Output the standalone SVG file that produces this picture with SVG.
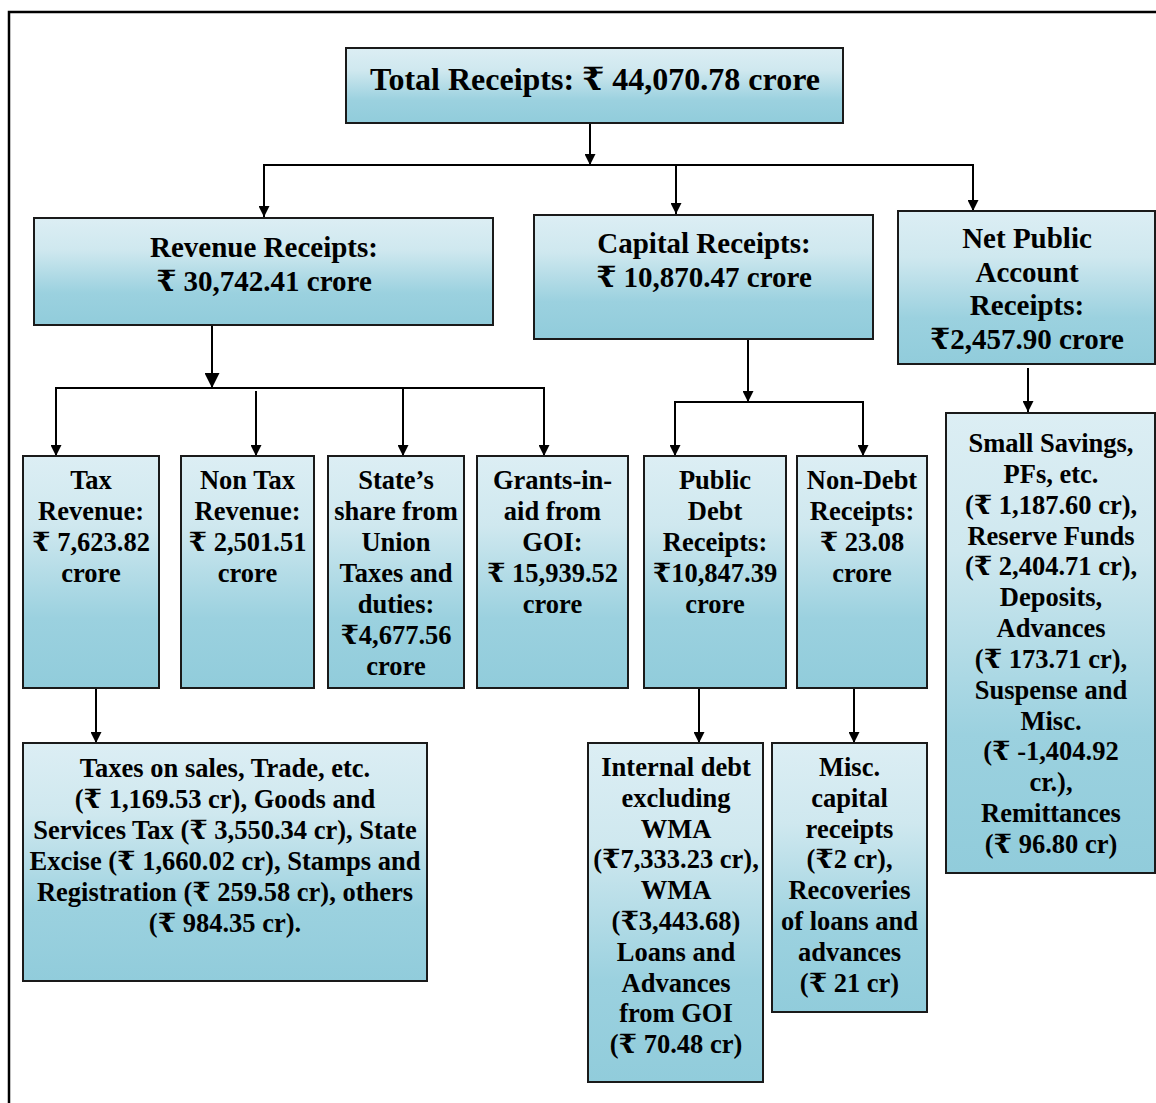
<svg xmlns="http://www.w3.org/2000/svg" width="1156" height="1103" viewBox="0 0 1156 1103">
<style>
.box{stroke:#1a1a1a;stroke-width:2;fill:url(#g)}
text{font-family:"Liberation Serif","Times New Roman","DejaVu Serif",serif;font-weight:bold;fill:#000;text-anchor:middle}
.t1{font-size:32px}
.t2{font-size:29px}
.t3{font-size:26.5px}
.c{stroke:#000;stroke-width:2;fill:none}
.a{marker-end:url(#arr)}
.ab{marker-end:url(#arrB)}
</style>
<defs>
<linearGradient id="g" x1="0" y1="0" x2="0" y2="1">
<stop offset="0" stop-color="#dceef4"/>
<stop offset="0.3" stop-color="#cfe8ef"/>
<stop offset="0.7" stop-color="#9bd1df"/>
<stop offset="1" stop-color="#91ccdb"/>
</linearGradient>
<marker id="arr" markerUnits="userSpaceOnUse" markerWidth="11" markerHeight="11" refX="11" refY="5.5" orient="auto" viewBox="0 0 11 11">
<path d="M0,0 L11,5.5 L0,11 z" fill="#000"/>
</marker>
<marker id="arrB" markerUnits="userSpaceOnUse" markerWidth="15" markerHeight="15" refX="15" refY="7.5" orient="auto" viewBox="0 0 15 15">
<path d="M0,0 L15,7.5 L0,15 z" fill="#000"/>
</marker>
</defs>
<rect width="1156" height="1103" fill="#fff"/>
<path d="M9,1103 V12 H1156" stroke="#000" stroke-width="2.5" fill="none"/>

<g id="connectors">
<line class="c a" x1="590" y1="123" x2="590" y2="165"/>
<line class="c" x1="263" y1="165" x2="974" y2="165"/>
<line class="c a" x1="264" y1="165" x2="264" y2="217"/>
<line class="c a" x1="676" y1="165" x2="676" y2="214"/>
<line class="c a" x1="973" y1="165" x2="973" y2="211"/>
<line class="c ab" x1="212" y1="325" x2="212" y2="388"/>
<line class="c" x1="55" y1="388" x2="545" y2="388"/>
<line class="c a" x1="56" y1="388" x2="56" y2="456"/>
<line class="c a" x1="256" y1="391" x2="256" y2="456"/>
<line class="c a" x1="403" y1="388" x2="403" y2="456"/>
<line class="c a" x1="544" y1="388" x2="544" y2="456"/>
<line class="c a" x1="748" y1="339" x2="748" y2="402"/>
<line class="c" x1="674" y1="402" x2="864" y2="402"/>
<line class="c a" x1="675" y1="402" x2="675" y2="456"/>
<line class="c a" x1="863" y1="402" x2="863" y2="456"/>
<line class="c a" x1="1028" y1="368" x2="1028" y2="412"/>
<line class="c a" x1="96" y1="688" x2="96" y2="743"/>
<line class="c a" x1="699" y1="688" x2="699" y2="743"/>
<line class="c a" x1="854" y1="688" x2="854" y2="743"/>
</g>

<g id="total">
<rect class="box" x="346" y="48" width="497" height="75"/>
<text class="t1" x="595" y="90">Total Receipts: ₹ 44,070.78 crore</text>
</g>

<g id="revenue">
<rect class="box" x="34" y="218" width="459" height="107"/>
<text class="t2" x="264" y="257">Revenue Receipts:</text>
<text class="t2" x="264" y="291">₹ 30,742.41 crore</text>
</g>

<g id="capital">
<rect class="box" x="534" y="215" width="339" height="124"/>
<text class="t2" x="704" y="253">Capital Receipts:</text>
<text class="t2" x="704" y="287">₹ 10,870.47 crore</text>
</g>

<g id="netpublic">
<rect class="box" x="898" y="211" width="257" height="153"/>
<text class="t2" x="1027" y="248">Net Public</text>
<text class="t2" x="1027" y="282">Account</text>
<text class="t2" x="1027" y="315">Receipts:</text>
<text class="t2" x="1027" y="349">₹2,457.90 crore</text>
</g>

<g id="taxrevenue">
<rect class="box" x="23" y="456" width="136" height="232"/>
<text class="t3" x="91" y="489">Tax</text>
<text class="t3" x="91" y="520">Revenue:</text>
<text class="t3" x="91" y="551">₹ 7,623.82</text>
<text class="t3" x="91" y="582">crore</text>
</g>

<g id="nontax">
<rect class="box" x="181" y="456" width="133" height="232"/>
<text class="t3" x="247.5" y="489">Non Tax</text>
<text class="t3" x="247.5" y="520">Revenue:</text>
<text class="t3" x="247.5" y="551">₹ 2,501.51</text>
<text class="t3" x="247.5" y="582">crore</text>
</g>

<g id="stateshare">
<rect class="box" x="328" y="456" width="136" height="232"/>
<text class="t3" x="396" y="489">State’s</text>
<text class="t3" x="396" y="520">share from</text>
<text class="t3" x="396" y="551">Union</text>
<text class="t3" x="396" y="582">Taxes and</text>
<text class="t3" x="396" y="613">duties:</text>
<text class="t3" x="396" y="644">₹4,677.56</text>
<text class="t3" x="396" y="675">crore</text>
</g>

<g id="grants">
<rect class="box" x="477" y="456" width="151" height="232"/>
<text class="t3" x="552.5" y="489">Grants-in-</text>
<text class="t3" x="552.5" y="520">aid from</text>
<text class="t3" x="552.5" y="551">GOI:</text>
<text class="t3" x="552.5" y="582">₹ 15,939.52</text>
<text class="t3" x="552.5" y="613">crore</text>
</g>

<g id="publicdebt">
<rect class="box" x="644" y="456" width="142" height="232"/>
<text class="t3" x="715" y="489">Public</text>
<text class="t3" x="715" y="520">Debt</text>
<text class="t3" x="715" y="551">Receipts:</text>
<text class="t3" x="715" y="582">₹10,847.39</text>
<text class="t3" x="715" y="613">crore</text>
</g>

<g id="nondebt">
<rect class="box" x="797" y="456" width="130" height="232"/>
<text class="t3" x="862" y="489">Non-Debt</text>
<text class="t3" x="862" y="520">Receipts:</text>
<text class="t3" x="862" y="551">₹ 23.08</text>
<text class="t3" x="862" y="582">crore</text>
</g>

<g id="taxes">
<rect class="box" x="23" y="743" width="404" height="238"/>
<text class="t3" x="225" y="777">Taxes on sales, Trade, etc.</text>
<text class="t3" x="225" y="808">(₹ 1,169.53 cr), Goods and</text>
<text class="t3" x="225" y="839">Services Tax (₹ 3,550.34 cr), State</text>
<text class="t3" x="225" y="870">Excise (₹ 1,660.02 cr), Stamps and</text>
<text class="t3" x="225" y="901">Registration (₹ 259.58 cr), others</text>
<text class="t3" x="225" y="932">(₹ 984.35 cr).</text>
</g>

<g id="internaldebt">
<rect class="box" x="588" y="743" width="175" height="339"/>
<text class="t3" x="676" y="776">Internal debt</text>
<text class="t3" x="676" y="807">excluding</text>
<text class="t3" x="676" y="838">WMA</text>
<text class="t3" x="676" y="868">(₹7,333.23 cr),</text>
<text class="t3" x="676" y="899">WMA</text>
<text class="t3" x="676" y="930">(₹3,443.68)</text>
<text class="t3" x="676" y="961">Loans and</text>
<text class="t3" x="676" y="992">Advances</text>
<text class="t3" x="676" y="1022">from GOI</text>
<text class="t3" x="676" y="1053">(₹ 70.48 cr)</text>
</g>

<g id="misccapital">
<rect class="box" x="772" y="743" width="155" height="269"/>
<text class="t3" x="849.5" y="776">Misc.</text>
<text class="t3" x="849.5" y="807">capital</text>
<text class="t3" x="849.5" y="838">receipts</text>
<text class="t3" x="849.5" y="868">(₹2 cr),</text>
<text class="t3" x="849.5" y="899">Recoveries</text>
<text class="t3" x="849.5" y="930">of loans and</text>
<text class="t3" x="849.5" y="961">advances</text>
<text class="t3" x="849.5" y="992">(₹ 21 cr)</text>
</g>

<g id="smallsavings">
<rect class="box" x="946" y="413" width="209" height="460"/>
<text class="t3" x="1051" y="452">Small Savings,</text>
<text class="t3" x="1051" y="483">PFs, etc.</text>
<text class="t3" x="1051" y="514">(₹ 1,187.60 cr),</text>
<text class="t3" x="1051" y="545">Reserve Funds</text>
<text class="t3" x="1051" y="575">(₹ 2,404.71 cr),</text>
<text class="t3" x="1051" y="606">Deposits,</text>
<text class="t3" x="1051" y="637">Advances</text>
<text class="t3" x="1051" y="668">(₹ 173.71 cr),</text>
<text class="t3" x="1051" y="699">Suspense and</text>
<text class="t3" x="1051" y="730">Misc.</text>
<text class="t3" x="1051" y="760">(₹ -1,404.92</text>
<text class="t3" x="1051" y="791">cr.),</text>
<text class="t3" x="1051" y="822">Remittances</text>
<text class="t3" x="1051" y="853">(₹ 96.80 cr)</text>
</g>
</svg>
